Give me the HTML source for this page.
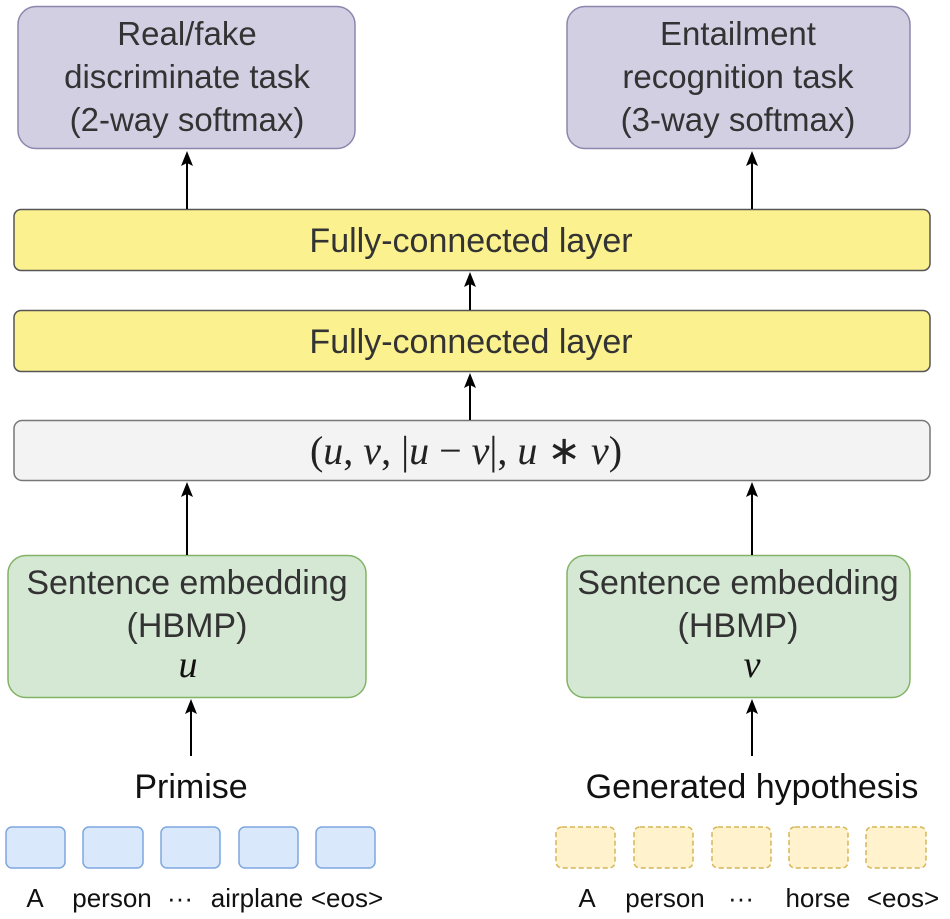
<!DOCTYPE html>
<html><head><meta charset="utf-8"><style>
html,body{margin:0;padding:0;background:#fff;}
svg{display:block;}
text{font-family:"Liberation Sans",sans-serif;}
.m{font-family:"Liberation Serif",serif;font-style:italic;}
</style></head><body>
<svg width="950" height="919" viewBox="0 0 950 919" xmlns="http://www.w3.org/2000/svg">

<!-- top boxes -->
<rect x="18" y="6.5" width="337" height="142" rx="18" fill="#d2cfe3" stroke="#8e86ad" stroke-width="1.5"/>
<rect x="567" y="6.5" width="343" height="142" rx="18" fill="#d2cfe3" stroke="#8e86ad" stroke-width="1.5"/>
<g font-size="33" fill="#333" text-anchor="middle">
<text x="187" y="45">Real/fake</text>
<text x="187" y="88">discriminate task</text>
<text x="187" y="131">(2-way softmax)</text>
<text x="738" y="45">Entailment</text>
<text x="738" y="88">recognition task</text>
<text x="738" y="131">(3-way softmax)</text>
</g>

<!-- FC layers -->
<rect x="14" y="209.5" width="916" height="61" rx="7" fill="#fbf18e" stroke="#555" stroke-width="1.5"/>
<rect x="14" y="310.5" width="916" height="61" rx="7" fill="#fbf18e" stroke="#555" stroke-width="1.5"/>
<g font-size="34" fill="#333" text-anchor="middle">
<text x="471" y="252">Fully-connected layer</text>
<text x="471" y="353">Fully-connected layer</text>
</g>
<rect x="14" y="420.5" width="916" height="60" rx="8" fill="#f3f3f3" stroke="#777" stroke-width="1.5"/>
<text x="466" y="464" font-size="40" text-anchor="middle" fill="#222"><tspan font-family="Liberation Serif">(</tspan><tspan class="m">u</tspan><tspan font-family="Liberation Serif">, </tspan><tspan class="m">v</tspan><tspan font-family="Liberation Serif">, |</tspan><tspan class="m">u</tspan><tspan font-family="Liberation Serif"> − </tspan><tspan class="m">v</tspan><tspan font-family="Liberation Serif">|, </tspan><tspan class="m">u</tspan><tspan font-family="Liberation Serif"> ∗ </tspan><tspan class="m">v</tspan><tspan font-family="Liberation Serif">)</tspan></text>

<!-- green boxes -->
<rect x="8" y="555.5" width="358" height="142" rx="18" fill="#d5e8d4" stroke="#82b366" stroke-width="1.5"/>
<rect x="567" y="555.5" width="343" height="142" rx="18" fill="#d5e8d4" stroke="#82b366" stroke-width="1.5"/>
<g font-size="34" fill="#333" text-anchor="middle">
<text x="187" y="594">Sentence embedding</text>
<text x="187" y="637">(HBMP)</text>
<text x="738" y="594">Sentence embedding</text>
<text x="738" y="637">(HBMP)</text>
</g>
<text x="188" y="677" font-size="38" class="m" text-anchor="middle" fill="#111">u</text>
<text x="752" y="677" font-size="38" class="m" text-anchor="middle" fill="#111">v</text>

<!-- arrows -->
<g stroke="#000" stroke-width="2" fill="none">
<line x1="187" y1="209" x2="187" y2="162"/>
<line x1="752" y1="209" x2="752" y2="162"/>
<line x1="470" y1="310" x2="470" y2="280"/>
<line x1="470" y1="420" x2="470" y2="381"/>
<line x1="187" y1="555" x2="187" y2="491"/>
<line x1="752" y1="555" x2="752" y2="491"/>
<line x1="191" y1="756" x2="191" y2="707"/>
<line x1="752" y1="756" x2="752" y2="707"/>
</g>
<g fill="#000">
<path d="M181,166 L187,151 L193,166 L187,163Z"/>
<path d="M746,166 L752,151 L758,166 L752,163Z"/>
<path d="M464,287 L470,272 L476,287 L470,284Z"/>
<path d="M464,388 L470,373 L476,388 L470,385Z"/>
<path d="M181,497 L187,482 L193,497 L187,494Z"/>
<path d="M746,497 L752,482 L758,497 L752,494Z"/>
<path d="M185,714 L191,699 L197,714 L191,711Z"/>
<path d="M746,714 L752,699 L758,714 L752,711Z"/>
</g>

<g font-size="34" fill="#111" text-anchor="middle">
<text x="191" y="798">Primise</text>
<text x="752" y="798">Generated hypothesis</text>
</g>

<!-- tokens -->
<g fill="#dae8fc" stroke="#7ea6e0" stroke-width="1.5">
<rect x="6" y="827" width="59" height="41" rx="6"/>
<rect x="83" y="827" width="60" height="41" rx="6"/>
<rect x="161" y="827" width="59" height="41" rx="6"/>
<rect x="239" y="827" width="59" height="41" rx="6"/>
<rect x="316" y="827" width="59" height="41" rx="6"/>
</g>
<g fill="#fff2cc" stroke="#d6b656" stroke-width="1.5" stroke-dasharray="5,3">
<rect x="556" y="827" width="59" height="41" rx="6"/>
<rect x="634" y="827" width="59" height="41" rx="6"/>
<rect x="712" y="827" width="59" height="41" rx="6"/>
<rect x="789" y="827" width="59" height="41" rx="6"/>
<rect x="866" y="827" width="60" height="41" rx="6"/>
</g>
<g font-size="26" fill="#111" text-anchor="middle">
<text x="35" y="907">A</text>
<text x="112" y="907">person</text>
<text x="180" y="907">···</text>
<text x="257" y="907">airplane</text>
<text x="347" y="907">&lt;eos&gt;</text>
<text x="587" y="907">A</text>
<text x="665" y="907">person</text>
<text x="741" y="907">···</text>
<text x="818" y="907">horse</text>
<text x="903" y="907">&lt;eos&gt;</text>
</g>
</svg>
</body></html>
